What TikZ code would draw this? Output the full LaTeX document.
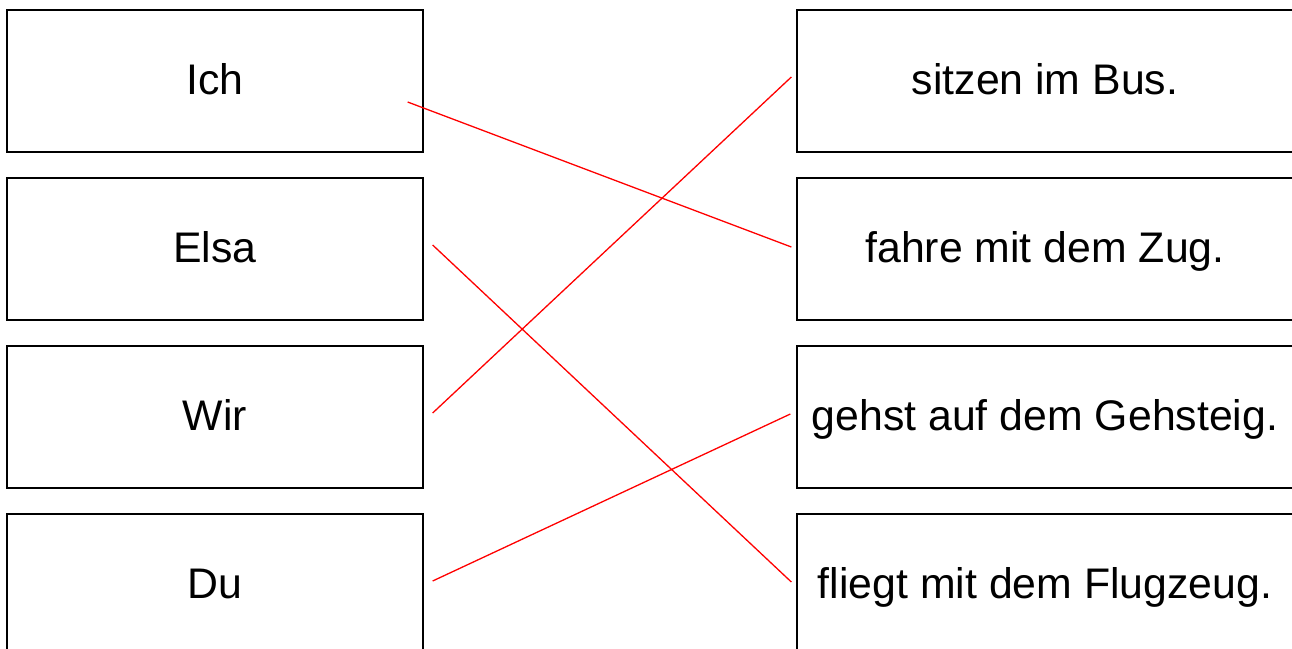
\documentclass[tikz,border=0pt]{standalone}
\usepackage{fontspec}
\setmainfont{Liberation Sans}
\usetikzlibrary{calc}
\tikzset{
    leftbox/.style={draw, line width=1.3pt, minimum width=416pt, minimum height=142pt,
        inner sep=0pt, text height=34pt, text depth=8pt},
    rightbox/.style={leftbox, minimum width=496pt},
    matchline/.style={red, line width=1.3pt}
}
\begin{document}
\begin{tikzpicture}[x=1pt, y=-1pt, font=\fontsize{42.8}{52}\selectfont]
    \useasboundingbox (0, 0) rectangle (1292, 648);
    \clip (0, 0) rectangle (1292, 648);
    % subjects
    \node[leftbox] (ich) at (215, 81) {Ich};
    \node[leftbox] (elsa) at (215, 249) {Elsa};
    \node[leftbox] (wir) at (215, 417) {Wir};
    \node[leftbox] (du) at (215, 585) {Du};
    % endings
    \node[rightbox] (bus) at (1045, 81) {sitzen im Bus.};
    \node[rightbox] (zug) at (1045, 249) {fahre mit dem Zug.};
    \node[rightbox] (gehsteig) at (1045, 417) {gehst auf dem Gehsteig.};
    \node[rightbox] (flugzeug) at (1045, 585) {fliegt mit dem Flugzeug.};
    % answers
    \draw[matchline] ($(ich.east) + (-16, 21)$) -- ($(zug.west) + (-5, -2)$);
    \draw[matchline] ($(elsa.east) + (9, -4)$) -- ($(flugzeug.west) + (-5, -3)$);
    \draw[matchline] ($(wir.east) + (9, -4)$) -- ($(bus.west) + (-5, -4)$);
    \draw[matchline] ($(du.east) + (9, -4)$) -- ($(gehsteig.west) + (-6, -3)$);
\end{tikzpicture}
\end{document}
